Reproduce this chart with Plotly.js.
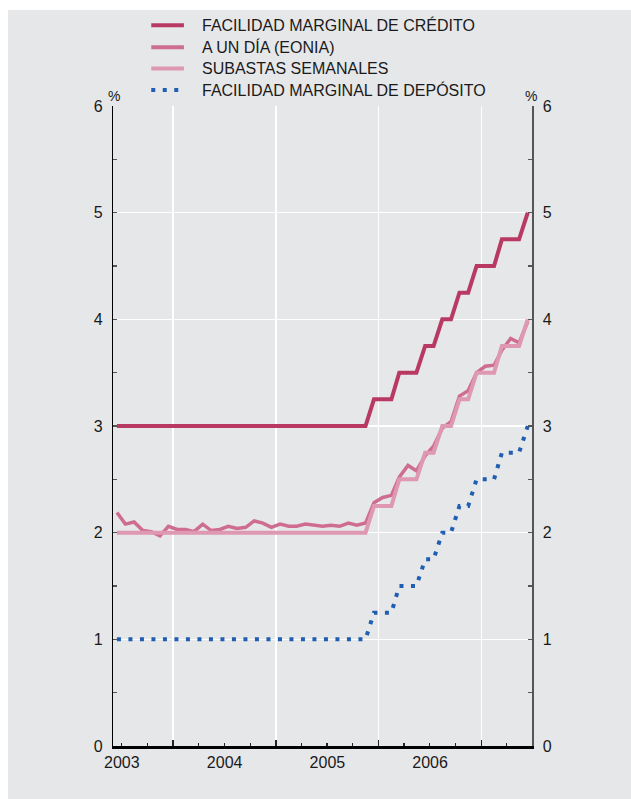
<!DOCTYPE html>
<html>
<head>
<meta charset="utf-8">
<script src="https://cdn.plot.ly/plotly-3.0.1.min.js"></script>
<style>
  html, body { margin: 0; padding: 0; background: #ffffff; }
  #chart { position: absolute; left: 8px; top: 10px; width: 623px; height: 789px; }
</style>
</head>
<body>
<div id="chart"></div>
<script>
// Monthly observations (mid-month), June 2003 – June 2007
const months = [
  '2003-06-15','2003-07-15','2003-08-15','2003-09-15','2003-10-15','2003-11-15','2003-12-15',
  '2004-01-15','2004-02-15','2004-03-15','2004-04-15','2004-05-15','2004-06-15',
  '2004-07-15','2004-08-15','2004-09-15','2004-10-15','2004-11-15','2004-12-15',
  '2005-01-15','2005-02-15','2005-03-15','2005-04-15','2005-05-15','2005-06-15',
  '2005-07-15','2005-08-15','2005-09-15','2005-10-15','2005-11-15','2005-12-15',
  '2006-01-15','2006-02-15','2006-03-15','2006-04-15','2006-05-15','2006-06-15',
  '2006-07-15','2006-08-15','2006-09-15','2006-10-15','2006-11-15','2006-12-15',
  '2007-01-15','2007-02-15','2007-03-15','2007-04-15','2007-05-15','2007-06-15'
];

const seriesNames = [
  'FACILIDAD MARGINAL DE CRÉDITO',
  'A UN DÍA (EONIA)',
  'SUBASTAS SEMANALES',
  'FACILIDAD MARGINAL DE DEPÓSITO'
];

const facilidadCredito = [
  3.00,3.00,3.00,3.00,3.00,3.00,3.00,
  3.00,3.00,3.00,3.00,3.00,3.00,3.00,3.00,3.00,3.00,3.00,3.00,
  3.00,3.00,3.00,3.00,3.00,3.00,3.00,3.00,3.00,3.00,3.00,3.25,
  3.25,3.25,3.50,3.50,3.50,3.75,3.75,4.00,4.00,4.25,4.25,4.50,
  4.50,4.50,4.75,4.75,4.75,5.00
];

const eonia = [
  2.19,2.08,2.10,2.02,2.01,1.97,2.06,
  2.03,2.03,2.01,2.08,2.02,2.03,2.06,2.04,2.05,2.11,2.09,2.05,
  2.08,2.06,2.06,2.08,2.07,2.06,2.07,2.06,2.09,2.07,2.09,2.28,
  2.33,2.35,2.52,2.63,2.58,2.72,2.81,2.98,3.04,3.28,3.33,3.50,
  3.56,3.57,3.71,3.82,3.78,3.98
];

const subastasSemanales = [
  2.00,2.00,2.00,2.00,2.00,2.00,2.00,
  2.00,2.00,2.00,2.00,2.00,2.00,2.00,2.00,2.00,2.00,2.00,2.00,
  2.00,2.00,2.00,2.00,2.00,2.00,2.00,2.00,2.00,2.00,2.00,2.25,
  2.25,2.25,2.50,2.50,2.50,2.75,2.75,3.00,3.00,3.25,3.25,3.50,
  3.50,3.50,3.75,3.75,3.75,4.00
];

const facilidadDeposito = [
  1.00,1.00,1.00,1.00,1.00,1.00,1.00,
  1.00,1.00,1.00,1.00,1.00,1.00,1.00,1.00,1.00,1.00,1.00,1.00,
  1.00,1.00,1.00,1.00,1.00,1.00,1.00,1.00,1.00,1.00,1.00,1.25,
  1.25,1.25,1.50,1.50,1.50,1.75,1.75,2.00,2.00,2.25,2.25,2.50,
  2.50,2.50,2.75,2.75,2.75,3.00
];

const yTicks = [0, 1, 2, 3, 4, 5, 6];

const FONT = '"Liberation Sans", Arial, Helvetica, sans-serif';
const BG = '#e6e7e9';
const TXT = '#1a1a1a';

const colors = ['#b83a63', '#cf6d90', '#de98b0', '#1f5eb3'];
const widths = [4, 3.5, 4, 4];
const dashes = ['solid', 'solid', 'solid', '4px,7.5px'];

const traces = [
  { x: months, y: facilidadCredito, name: seriesNames[0], type: 'scatter', mode: 'lines',
    line: { color: colors[0], width: widths[0] } },
  { x: months, y: eonia, name: seriesNames[1], type: 'scatter', mode: 'lines',
    line: { color: colors[1], width: widths[1] } },
  { x: months, y: subastasSemanales, name: seriesNames[2], type: 'scatter', mode: 'lines',
    line: { color: colors[2], width: widths[2] } },
  { x: months, y: facilidadDeposito, name: seriesNames[3], type: 'scatter', mode: 'lines',
    yaxis: 'y2', line: { color: colors[3], width: widths[3], dash: dashes[3] } }
];

// plot-area geometry (div pixels)
const W = 623, H = 789;
const M = { l: 105, r: 98.5, t: 96, b: 53 };
const PW = W - M.l - M.r, PH = H - M.t - M.b;
const px2x = p => (p - M.l) / PW;
const px2y = p => (H - M.b - p) / PH;

// manual legend (lines + text), positioned in pixels
const legendRowsY = [15.3, 37.3, 58.6, 80];
const legendShapes = legendRowsY.map((ry, i) => ({
  type: 'line', xref: 'paper', yref: 'paper',
  x0: px2x(143.3), x1: px2x(176), y0: px2y(ry), y1: px2y(ry),
  line: { color: colors[i], width: widths[i] === 3.5 ? 4 : widths[i], dash: dashes[i] }
}));
const legendTexts = legendRowsY.map((ry, i) => ({
  text: seriesNames[i], xref: 'paper', yref: 'paper',
  x: px2x(192), y: px2y(ry), xanchor: 'left', yanchor: 'middle',
  showarrow: false, font: { family: FONT, size: 16, color: TXT }
}));

const yCommon = {
  range: [0, 6], tickvals: yTicks, ticktext: yTicks.map(String),
  ticks: 'inside', ticklen: 4, tickwidth: 1.5, tickcolor: '#555',
  minor: { dtick: 0.5, ticks: 'inside', ticklen: 4, tickwidth: 1.5, tickcolor: '#555', showgrid: false },
  showline: true, zeroline: false, fixedrange: true,
  tickfont: { family: FONT, size: 16, color: TXT },
  ticklabelstandoff: 6
};

const layout = {
  width: W, height: H,
  paper_bgcolor: BG, plot_bgcolor: BG,
  margin: { l: M.l, r: M.r, t: M.t, b: M.b, autoexpand: false },
  showlegend: false,
  xaxis: {
    type: 'date', range: ['2003-06-01', '2007-06-30'],
    tick0: '2003-01-01', dtick: 'M12', tickformat: '%Y', ticklabelmode: 'period',
    ticks: 'inside', ticklen: 6, tickwidth: 1.5, tickcolor: '#222',
    minor: { dtick: 'M3', ticks: 'inside', ticklen: 3, tickwidth: 1.2, tickcolor: '#222', showgrid: false },
    showgrid: true, gridcolor: '#ffffff', gridwidth: 1.5,
    showline: true, linecolor: '#000', linewidth: 2.5,
    zeroline: false, fixedrange: true, tickangle: 0,
    tickfont: { family: FONT, size: 16, color: TXT }
  },
  yaxis: Object.assign({}, yCommon, {
    side: 'left', linecolor: '#000', linewidth: 1.2,
    showgrid: true, gridcolor: '#ffffff', gridwidth: 1.5
  }),
  yaxis2: Object.assign({}, yCommon, {
    side: 'right', overlaying: 'y', linecolor: '#555', linewidth: 1.5,
    showgrid: false
  }),
  shapes: legendShapes,
  annotations: legendTexts.concat([
    { text: '%', xref: 'paper', yref: 'paper', x: px2x(106), y: px2y(86), xanchor: 'center', yanchor: 'middle',
      showarrow: false, font: { family: FONT, size: 14, color: TXT } },
    { text: '%', xref: 'paper', yref: 'paper', x: px2x(523.7), y: px2y(86), xanchor: 'center', yanchor: 'middle',
      showarrow: false, font: { family: FONT, size: 14, color: TXT } }
  ])
};

Plotly.newPlot('chart', traces, layout, { displayModeBar: false, staticPlot: true });
</script>
</body>
</html>
